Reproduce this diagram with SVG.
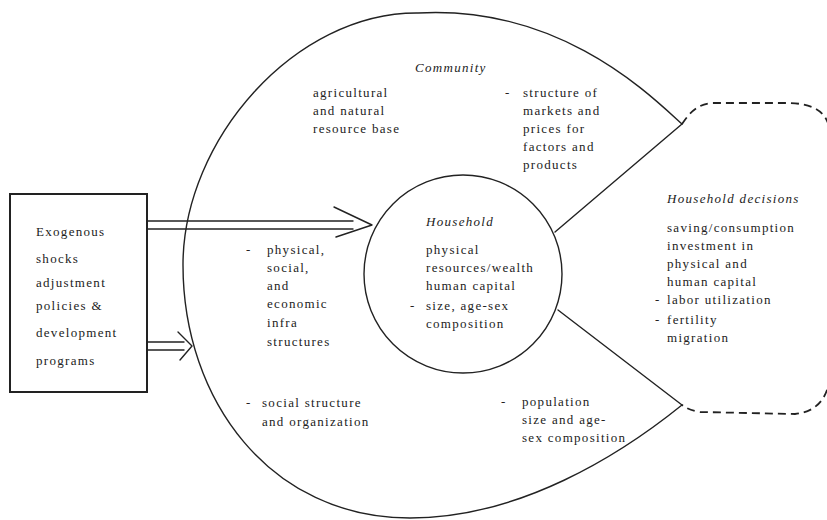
<svg xmlns="http://www.w3.org/2000/svg" width="827" height="520" viewBox="0 0 827 520">
<style>
  .t { font-family: "Liberation Serif", "Times New Roman", serif; font-size: 13px; fill: #222; letter-spacing: 1.3px; }
  .i { font-style: italic; }
  .ln { fill: none; stroke: #222; stroke-width: 1.4; stroke-linecap: round; stroke-linejoin: round; }
  .box { fill: #fff; stroke: #222; stroke-width: 2; }
  .dash { fill: none; stroke: #222; stroke-width: 1.8; stroke-dasharray: 8 5; }
</style>
<rect width="827" height="520" fill="#fff"/>

<g id="community">
  <path class="ln" d="M682,124 C650,95 560,5 418,13 C295,12 183,140 183,265 C183,400 270,518 410,518 C520,518 620,455 682,405"/>
  <text class="t i" x="415" y="72">Community</text>
  <text class="t" x="313" y="97">agricultural</text>
  <text class="t" x="313" y="115">and natural</text>
  <text class="t" x="313" y="133">resource base</text>
  <text class="t" x="505" y="97">-</text>
  <text class="t" x="523" y="97">structure of</text>
  <text class="t" x="523" y="115">markets and</text>
  <text class="t" x="523" y="133">prices for</text>
  <text class="t" x="523" y="151">factors and</text>
  <text class="t" x="523" y="169">products</text>
  <text class="t" x="246" y="254">-</text>
  <text class="t" x="267" y="254">physical,</text>
  <text class="t" x="267" y="272">social,</text>
  <text class="t" x="267" y="290">and</text>
  <text class="t" x="267" y="308">economic</text>
  <text class="t" x="267" y="327">infra</text>
  <text class="t" x="267" y="346">structures</text>
  <text class="t" x="246" y="407">-</text>
  <text class="t" x="262" y="407">social structure</text>
  <text class="t" x="262" y="426">and organization</text>
  <text class="t" x="501" y="406">-</text>
  <text class="t" x="522" y="406">population</text>
  <text class="t" x="522" y="424">size and age-</text>
  <text class="t" x="522" y="442">sex composition</text>
</g>

<g id="household">
  <circle class="ln" cx="463" cy="274" r="99"/>
  <text class="t i" x="426" y="226">Household</text>
  <text class="t" x="426" y="254">physical</text>
  <text class="t" x="426" y="272">resources/wealth</text>
  <text class="t" x="426" y="290">human capital</text>
  <text class="t" x="410" y="310">-</text>
  <text class="t" x="426" y="310">size, age-sex</text>
  <text class="t" x="426" y="328">composition</text>
</g>

<g id="decisions">
  <path class="dash" d="M682,124 C690,112 698,104 712,103 L790,103 C812,104 826,110 830,130 L830,375 C828,400 815,412 795,414 L700,412 C692,411 686,408 682,405"/>
  <text class="t i" x="667" y="203">Household decisions</text>
  <text class="t" x="667" y="232">saving/consumption</text>
  <text class="t" x="667" y="250">investment in</text>
  <text class="t" x="667" y="268">physical and</text>
  <text class="t" x="667" y="286">human capital</text>
  <text class="t" x="655" y="304">-</text>
  <text class="t" x="667" y="304">labor utilization</text>
  <text class="t" x="655" y="324">-</text>
  <text class="t" x="667" y="324">fertility</text>
  <text class="t" x="667" y="342">migration</text>
</g>

<g id="exogenous">
  <rect class="box" x="10" y="194" width="137" height="198"/>
  <text class="t" x="36" y="236">Exogenous</text>
  <text class="t" x="36" y="263">shocks</text>
  <text class="t" x="36" y="287">adjustment</text>
  <text class="t" x="36" y="310">policies &amp;</text>
  <text class="t" x="36" y="337">development</text>
  <text class="t" x="36" y="365">programs</text>
</g>

<g id="connectors">
  <path class="ln" d="M147,221 L353,221 M147,229 L353,229"/>
  <path class="ln" d="M334,207 L372,225 L336,237"/>
  <path class="ln" d="M147,342 L184,342 M147,350 L184,350"/>
  <path class="ln" d="M178,332 L192,346 L180,360"/>
  <path class="ln" d="M555,232 L682,124"/>
  <path class="ln" d="M558,310 L682,405"/>
</g>
</svg>
